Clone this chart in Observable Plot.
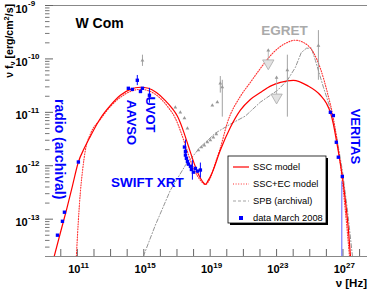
<!DOCTYPE html>
<html><head><meta charset="utf-8">
<script src="https://cdn.jsdelivr.net/npm/d3@7"></script>
<script src="https://cdn.jsdelivr.net/npm/@observablehq/plot@0.6"></script>
<style>
html,body{margin:0;padding:0;background:#fff;}
#chart{width:375px;height:291px;}
</style></head><body><div id="chart"></div>
<script>
// ---------- data (log10 of nu [Hz] and nu F_nu [erg/cm2/s]) ----------
const xDomain = [1.2e9, 3e28];
const yDomain = [2e-14, 1e-9];

const sscLogNu = [9.61, 9.98, 10.34, 10.70, 11.06, 11.42, 11.78, 12.39, 12.99, 13.59, 14.19, 14.80, 15.28, 15.76, 16.30, 16.72, 17.02, 17.33, 17.57, 17.81, 18.05, 18.29, 18.53, 18.71, 18.89, 19.13, 19.61, 20.22, 20.82, 21.42, 22.02, 22.63, 23.23, 24.01, 24.86, 25.64, 26.00, 26.24, 26.42, 26.60, 26.78, 26.96, 27.14, 27.33, 27.45];
const sscLogF  = [-13.69, -13.25, -12.83, -12.38, -11.93, -11.67, -11.45, -11.11, -10.87, -10.68, -10.57, -10.53, -10.55, -10.63, -10.78, -10.93, -11.07, -11.30, -11.52, -11.75, -11.97, -12.16, -12.29, -12.35, -12.27, -12.12, -11.71, -11.28, -10.96, -10.76, -10.63, -10.51, -10.44, -10.40, -10.50, -10.68, -10.83, -11.00, -11.22, -11.52, -11.84, -12.20, -12.64, -13.21, -13.69];

const ecLogNu = [10.94, 11.06, 11.18, 11.30, 11.48, 11.78, 12.39, 12.99, 13.59, 14.19, 14.80, 15.40, 16.00, 16.48, 16.90, 17.20, 17.51, 17.81, 18.11, 18.41, 18.71, 19.01, 19.31, 19.61, 20.04, 20.82, 21.42, 22.02, 22.81, 23.53, 24.13, 24.61, 25.22, 25.64, 26.06, 26.42, 26.66, 26.90, 27.14, 27.39];
const ecLogF  = [-13.69, -13.02, -12.49, -12.12, -11.71, -11.41, -11.13, -10.89, -10.72, -10.61, -10.57, -10.61, -10.74, -10.91, -11.11, -11.34, -11.62, -11.90, -12.12, -12.27, -12.35, -12.23, -11.95, -11.67, -11.19, -10.70, -10.44, -10.18, -9.88, -9.71, -9.65, -9.69, -9.88, -10.18, -10.63, -11.11, -11.56, -12.12, -12.83, -13.69];

const spbLogNu = [14.98, 15.70, 16.60, 17.51, 18.41, 19.31, 20.22, 21.12, 22.02, 23.05, 23.65, 24.13, 24.49, 24.80, 25.10, 25.34, 25.82, 26.24, 26.60, 26.96, 27.27, 27.57];
const spbLogF  = [-13.69, -13.11, -12.46, -11.99, -11.65, -11.39, -11.22, -11.07, -10.81, -10.59, -10.40, -10.16, -9.88, -9.80, -9.80, -10.03, -10.53, -10.93, -11.43, -12.08, -12.83, -13.69];

// data March 2008 (blue)
const radioLogNu = [9.80, 10.10, 10.22, 11.06];
const radioLogF  = [-13.30, -13.04, -12.87, -11.93];
const opticalLogNu = [14.07, 14.31, 14.61, 14.80, 14.92, 15.34];
const opticalLogF  = [-10.55, -10.57, -10.40, -10.61, -10.55, -10.68];
const xrtLogNu = [17.45, 17.51, 17.51, 17.57, 17.63, 17.69, 17.81, 17.87, 17.99, 18.11, 18.23, 18.41];
const xrtLogF  = [-11.65, -11.73, -11.80, -11.86, -11.92, -11.97, -12.01, -12.07, -12.12, -12.05, -12.10, -12.08];
const veritasLogNu = [26.24, 26.42, 26.60, 26.72, 26.96];
const veritasLogF  = [-11.00, -11.06, -11.56, -11.84, -12.20];
const blueErrLogNu = [14.61, 15.34, 17.51, 17.93, 18.41];
const blueErrLogLo = [-10.50, -10.83, -11.90, -12.27, -12.23];
const blueErrLogHi = [-10.31, -10.55, -11.52, -11.90, -11.95];
const veritasLineLogNu = [26.93];
const veritasLineLogF = [-12.30];

// archival (gray)
const archLogNu = [14.92, 16.90, 17.20, 17.45, 17.63, 18.29, 18.47, 18.65, 18.83, 19.01, 19.19, 19.37, 19.13, 19.43, 19.61, 19.73, 23.65, 25.52];
const archLogF  = [-10.03, -10.91, -11.00, -11.11, -11.30, -11.71, -11.65, -11.62, -11.56, -11.52, -11.47, -11.41, -10.87, -10.81, -10.46, -10.53, -10.21, -9.75];
const archErrLogNu = [14.92, 19.61, 19.73, 23.65, 25.52];
const archErrLogLo = [-10.14, -10.64, -11.09, -11.09, -10.40];
const archErrLogHi = [-9.93, -10.33, -10.40, -9.93, -9.47];
const ulLogNu = [22.50, 23.00];
const ulLogMark = [-9.84, -10.35];
const ulLogLimit = [-10.08, -10.72];

// annotations
const annText = ["radio (archival)", "AAVSO", "UVOT", "SWIFT XRT", "VERITAS"];
const annLogNu = [9.92, 14.25, 15.40, 15.22, 27.75];
const annLogF  = [-11.69, -11.19, -11.04, -12.31, -11.45];
const annRotate = [90, 90, 90, 0, 90];
const annSize = [14, 13, 13, 13.5, 13];

// ticks
const yMajor = [1e-13, 1e-12, 1e-11, 1e-10, 1e-9];
const yMajorExp = ["-13", "-12", "-11", "-10", "-9"];
const xLabelVals = [1e11, 1e15, 1e19, 1e23, 1e27];
const xLabelExp = ["11", "15", "19", "23", "27"];
const xTickExps = [10,11,12,13,14,15,16,17,18,19,20,21,22,23,24,25,26,27,28];
const yMinorMant = [2,3,4,5,6,7,8,9];
const yMinorExps = [-14,-13,-12,-11,-10];

// legend
const legendLabels = ["SSC model", "SSC+EC model", "SPB (archival)", "data March 2008"];

// ---------- build ----------
const FONT = "'Liberation Sans', Arial, Helvetica, sans-serif";
const W = 375, H = 291, mL = 45, mR = 8, mT = 5, mB = 35;
const plotW = W - mL - mR, plotH = H - mT - mB;
const pts = (lx, ly) => lx.map((v, i) => ({nu: 10 ** v, f: 10 ** ly[i]}));

const ssc = pts(sscLogNu, sscLogF);
const ec = pts(ecLogNu, ecLogF);
const spb = pts(spbLogNu, spbLogF);
const blue = [...pts(radioLogNu, radioLogF), ...pts(opticalLogNu, opticalLogF), ...pts(xrtLogNu, xrtLogF), ...pts(veritasLogNu, veritasLogF)];
const blueErr = blueErrLogNu.map((v, i) => ({nu: 10 ** v, lo: 10 ** blueErrLogLo[i], hi: 10 ** blueErrLogHi[i]}));
const arch = pts(archLogNu, archLogF);
const archErr = archErrLogNu.map((v, i) => ({nu: 10 ** v, lo: 10 ** archErrLogLo[i], hi: 10 ** archErrLogHi[i]}));
const ul = ulLogNu.map((v, i) => ({nu: 10 ** v, mark: 10 ** ulLogMark[i], lim: 10 ** ulLogLimit[i]}));
const ann = annText.map((t, i) => ({t, nu: 10 ** annLogNu[i], f: 10 ** annLogF[i], rot: annRotate[i], size: annSize[i]}));
const vline = veritasLineLogNu.map((v, i) => ({nu: 10 ** v, f: 10 ** veritasLineLogF[i]}));
const xTicks = xTickExps.map(e => 10 ** e);
const yMinor = yMinorExps.flatMap(e => yMinorMant.map(m => m * 10 ** e)).filter(v => v > yDomain[0] * 1.01 && v < yDomain[1]);

const plot = Plot.plot({
  width: W, height: H,
  marginLeft: mL, marginRight: mR, marginTop: mT, marginBottom: mB,
  style: {fontFamily: FONT, background: "#fff", overflow: "visible"},
  x: {type: "log", domain: xDomain, axis: null},
  y: {type: "log", domain: yDomain, axis: null},
  marks: [
    Plot.ruleY([yDomain[1]], {stroke: "#888", strokeWidth: 1}),
    Plot.ruleY([yDomain[0]], {stroke: "#888", strokeWidth: 1}),
    Plot.ruleY(yMajor, {y: d => d, stroke: "#666", insetRight: plotW - 8}),
    Plot.ruleY(yMinor, {y: d => d, stroke: "#777", insetRight: plotW - 4.5}),
    Plot.ruleX(xTicks, {x: d => d, stroke: "#666", insetTop: plotH - 7}),
    Plot.text(yMajor, {y: d => d, frameAnchor: "left", text: () => "10", textAnchor: "start", lineAnchor: "middle", dx: -30, dy: 3.5, fontSize: 11, fontWeight: "bold", fill: "#000"}),
    Plot.text(yMajor, {y: d => d, frameAnchor: "left", text: (d, i) => yMajorExp[i], textAnchor: "start", lineAnchor: "middle", dx: -17.5, dy: -2, fontSize: 8, fontWeight: "bold", fill: "#000"}),
    Plot.text(xLabelVals, {x: d => d, frameAnchor: "bottom", text: () => "10", textAnchor: "end", lineAnchor: "middle", dx: 3, dy: 13, fontSize: 11, fontWeight: "bold", fill: "#000"}),
    Plot.text(xLabelVals, {x: d => d, frameAnchor: "bottom", text: (d, i) => xLabelExp[i], textAnchor: "start", lineAnchor: "middle", dx: 3, dy: 8.5, fontSize: 8, fontWeight: "bold", fill: "#000"}),
    Plot.line(spb, {x: "nu", y: "f", stroke: "#888", strokeWidth: 0.9, strokeDasharray: "4,2,1,2", clip: true}),
    Plot.line(ec, {x: "nu", y: "f", stroke: "#ff3030", strokeWidth: 1.1, strokeDasharray: "1,1.6", curve: "monotone-x", clip: true}),
    Plot.line(ssc, {x: "nu", y: "f", stroke: "#ff0000", strokeWidth: 1.2, curve: "monotone-x", clip: true}),
    Plot.ruleX(archErr, {x: "nu", y1: "lo", y2: "hi", stroke: "#999", strokeWidth: 0.9}),
    Plot.ruleX(ul, {x: "nu", y1: "mark", y2: "lim", stroke: "#aaa", strokeWidth: 0.8}),
    Plot.dot(ul, {x: "nu", y: "lim", symbol: "triangle", rotate: 180, r: 4.2, fill: "#e2e2e2", stroke: "#aaa", strokeWidth: 0.8}),
    Plot.dot(ul, {x: "nu", y: "mark", symbol: "triangle", r: 1.4, fill: "#999"}),
    Plot.dot(arch, {x: "nu", y: "f", symbol: "triangle", r: 1.4, fill: "#999"}),
    Plot.ruleX(vline, {x: "nu", y1: yDomain[0], y2: "f", stroke: "#6060ff", strokeWidth: 1}),
    Plot.ruleX(blueErr, {x: "nu", y1: "lo", y2: "hi", stroke: "#0000ff", strokeWidth: 1}),
    Plot.dot(blue, {x: "nu", y: "f", symbol: "square", r: 1.9, fill: "#0000ff"}),
    Plot.text(ann, {x: "nu", y: "f", text: "t", rotate: "rot", fontSize: "size", fontWeight: "bold", fill: "#0000ff", textAnchor: "middle", lineAnchor: "middle"}),
    Plot.text(["EGRET"], {x: () => 10 ** 23.47, y: () => 10 ** -9.47, text: d => d, fontSize: 13.5, fontWeight: "bold", fill: "#aaaaaa", lineAnchor: "middle"}),
    Plot.text(["W Com"], {frameAnchor: "top-left", text: d => d, dx: 30, dy: 18, textAnchor: "start", lineAnchor: "middle", fontSize: 14, fontWeight: "bold", fill: "#000"})
  ]
});

document.getElementById("chart").appendChild(plot);
const svg = d3.select(plot);

const yt = svg.append("text")
  .attr("transform", "translate(13,4) rotate(-90)")
  .attr("text-anchor", "end")
  .attr("font-family", FONT).attr("font-size", 10.5).attr("font-weight", "bold").attr("fill", "#000");
yt.append("tspan").text("ν f");
yt.append("tspan").attr("font-size", 7.5).attr("dy", 2).text("ν");
yt.append("tspan").attr("dy", -2).text(" [erg/cm");
yt.append("tspan").attr("font-size", 7.5).attr("dy", -4).text("2");
yt.append("tspan").attr("dy", 4).text("/s]");

svg.append("text")
  .attr("x", 367).attr("y", 287).attr("text-anchor", "end")
  .attr("font-family", FONT).attr("font-size", 11.5).attr("font-weight", "bold").attr("fill", "#000")
  .text("ν [Hz]");

const lg = svg.append("g").attr("text-anchor", "start");
const bx = 228, by = 156, bw = 98, bh = 67;
lg.append("rect").attr("x", bx + 2).attr("y", by + 2).attr("width", bw).attr("height", bh).attr("fill", "#000");
lg.append("rect").attr("x", bx).attr("y", by).attr("width", bw).attr("height", bh).attr("fill", "#fff").attr("stroke", "#000").attr("stroke-width", 0.8);
const rows = [167, 184, 201, 218];
const styles = [
  {stroke: "#ff0000", dash: null, w: 1.2},
  {stroke: "#ff3030", dash: "1,1.6", w: 1.1},
  {stroke: "#999", dash: "3,2", w: 0.9}
];
styles.forEach((s, i) => {
  const l = lg.append("line").attr("x1", bx + 5).attr("x2", bx + 21).attr("y1", rows[i]).attr("y2", rows[i])
    .attr("stroke", s.stroke).attr("stroke-width", s.w);
  if (s.dash) l.attr("stroke-dasharray", s.dash);
});
lg.append("rect").attr("x", bx + 11).attr("y", rows[3] - 2).attr("width", 4).attr("height", 4).attr("fill", "#0000ff");
legendLabels.forEach((t, i) => {
  lg.append("text").attr("x", bx + 25).attr("y", rows[i]).attr("dy", "0.35em").attr("text-anchor", "start")
    .attr("font-family", FONT).attr("font-size", 9.3).attr("font-weight", "normal").attr("fill", "#000").text(t);
});
</script></body></html>
